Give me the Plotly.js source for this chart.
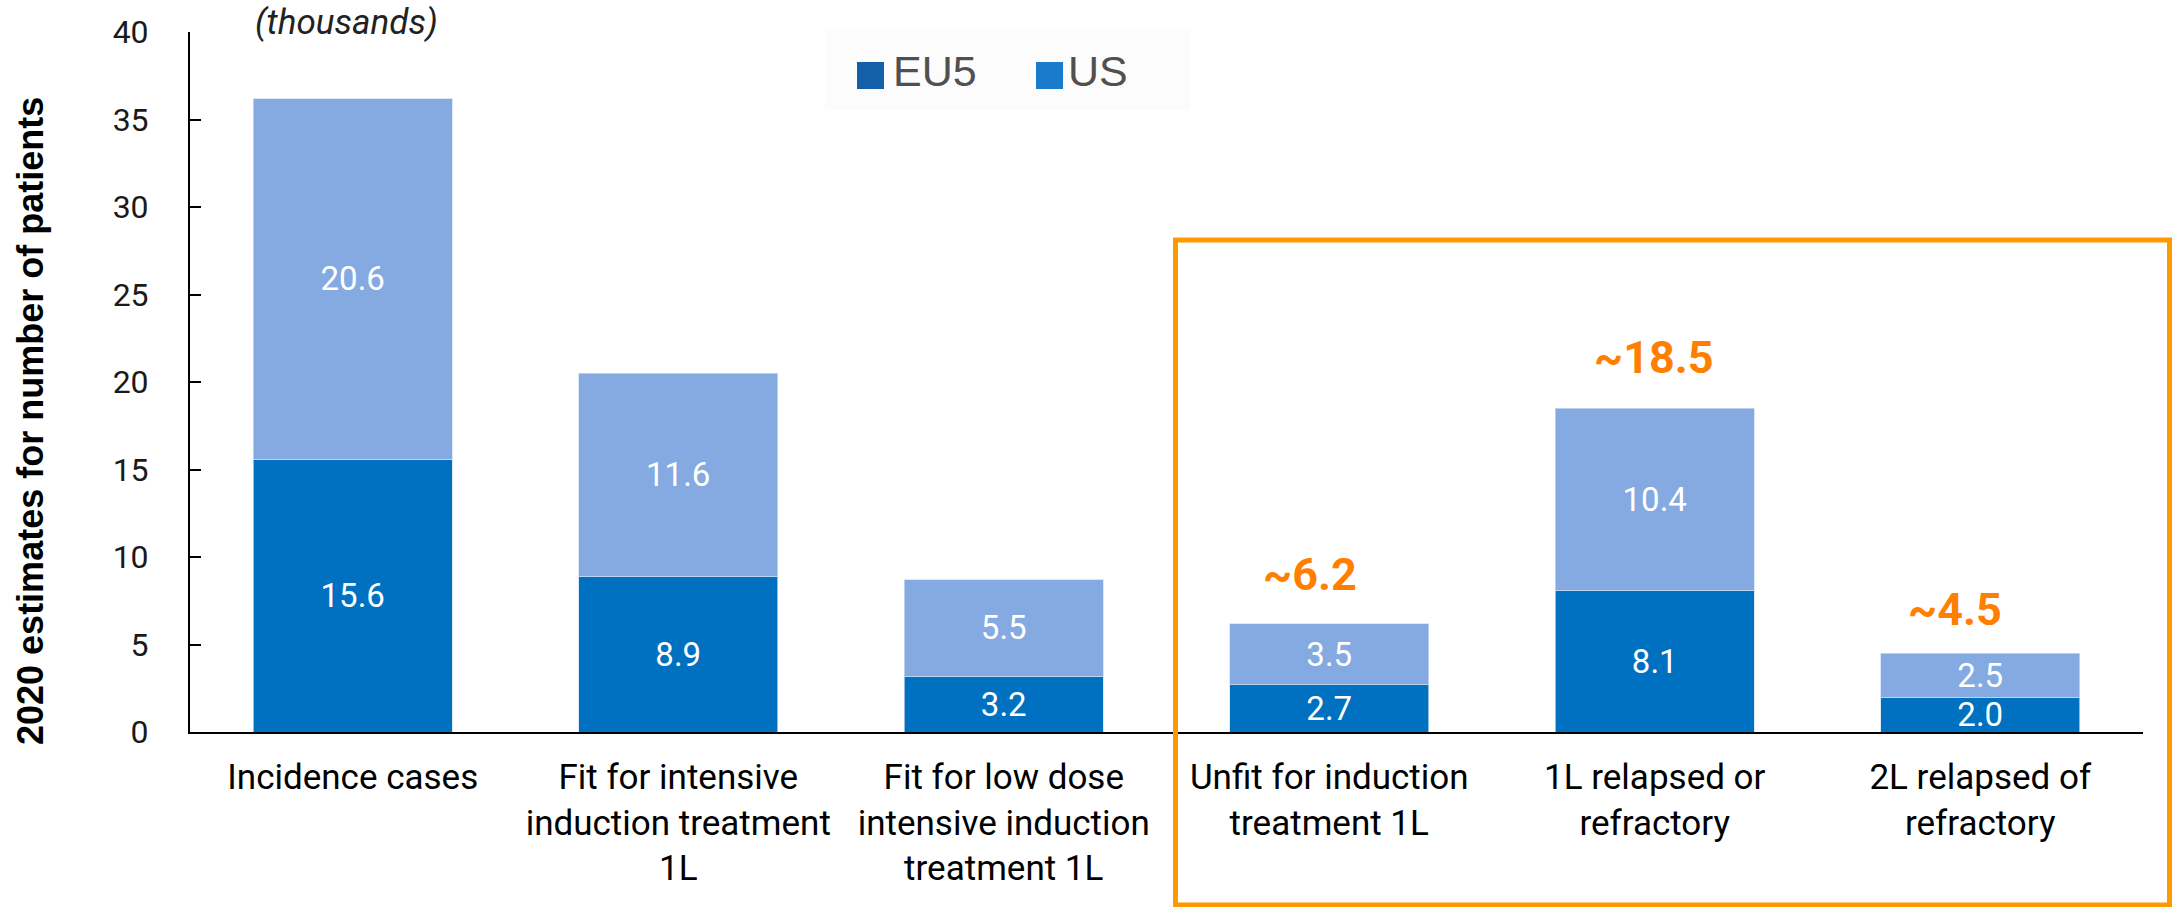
<!DOCTYPE html>
<html>
<head>
<meta charset="utf-8">
<script src="https://cdn.plot.ly/plotly-3.0.1.min.js"></script>
<style>html,body{margin:0;padding:0;background:#fff;}#chart{width:2172px;height:907px;}</style>
</head>
<body>
<div id="chart"></div>
<script>
// ---- data ----
const categories = [
  "Incidence cases",
  "Fit for intensive<br>induction treatment<br>1L",
  "Fit for low dose<br>intensive induction<br>treatment 1L",
  "Unfit for induction<br>treatment 1L",
  "1L relapsed or<br>refractory",
  "2L relapsed of<br>refractory"
];
const eu5Values = [15.6, 8.9, 3.2, 2.7, 8.1, 2.0];
const usValues  = [20.6, 11.6, 5.5, 3.5, 10.4, 2.5];
const highlightTotals = [null, null, null, 6.2, 18.5, 4.5];
const seriesNames = ["EU5", "US"];
const yTickVals = [0, 5, 10, 15, 20, 25, 30, 35, 40];

// ---- layout helpers (pixel -> paper) ----
const W = 2172, H = 907;
const M = {l: 190, r: 29, t: 32, b: 175};
const PW = W - M.l - M.r, PH = H - M.t - M.b;
const px = v => (v - M.l) / PW;
const py = v => (H - M.b - v) / PH;

const barLine = {color: 'rgba(205,222,245,0.7)', width: 1};
const traces = [
  {
    type: 'bar', name: seriesNames[0], x: categories, y: eu5Values,
    marker: {color: '#0070C0', line: barLine}, width: 0.61,
    texttemplate: '%{y:.1f}', textposition: 'inside', insidetextanchor: 'middle',
    textangle: 0, constraintext: 'none',
    textfont: {family: 'Roboto, sans-serif', size: 33, color: '#ffffff'},
    showlegend: false, hoverinfo: 'x+y'
  },
  {
    type: 'bar', name: seriesNames[1], x: categories, y: usValues,
    marker: {color: '#85AAE1', line: barLine}, width: 0.61,
    texttemplate: '%{y:.1f}', textposition: 'inside', insidetextanchor: 'middle',
    textangle: 0, constraintext: 'none',
    textfont: {family: 'Roboto, sans-serif', size: 33, color: '#ffffff'},
    showlegend: false, hoverinfo: 'x+y'
  }
];

const annXShift = [0, 0, 0, -19, -1, -25];
const annYShift = [0, 0, 0, 21, 22, 15];
const annotations = [];
highlightTotals.forEach((t, i) => {
  if (t === null) return;
  annotations.push({
    x: categories[i], y: t, xref: 'x', yref: 'y',
    text: '~' + t.toFixed(1), showarrow: false,
    xanchor: 'center', yanchor: 'bottom', xshift: annXShift[i], yshift: annYShift[i],
    font: {family: 'Roboto, Arial, sans-serif', size: 45, color: '#FF7F00', weight: 'bold'}
  });
});
// "(thousands)"
annotations.push({
  xref: 'paper', yref: 'paper', x: px(346), y: py(23), xanchor: 'center', yanchor: 'middle',
  text: '<i>(thousands)</i>', showarrow: false,
  font: {family: 'Roboto, sans-serif', size: 35, color: '#222222'}
});
// y axis title
annotations.push({
  xref: 'paper', yref: 'paper', x: px(30), y: py(421), xanchor: 'center', yanchor: 'middle',
  text: '<b>2020 estimates for number of patients</b>', textangle: -90, showarrow: false,
  font: {family: '"Liberation Sans", Arial, sans-serif', size: 36, color: '#000000'}
});
// legend texts
const legendColors = ['#1460A8', '#1A7ACB'];
const legendSquareX = [857, 1036];
const legendTextX = [891, 1066];
seriesNames.forEach((n, i) => {
  annotations.push({
    xref: 'paper', yref: 'paper', x: px(legendTextX[i]), y: py(71), xanchor: 'left', yanchor: 'middle',
    text: n, showarrow: false,
    font: {family: '"Liberation Sans", Arial, sans-serif', size: 43, color: '#505050'}
  });
});

const shapes = [
  // faint legend background
  {type: 'rect', xref: 'paper', yref: 'paper', x0: px(825), x1: px(1190), y0: py(110), y1: py(28),
   fillcolor: '#fcfcfc', line: {width: 0}, layer: 'below'},
  // highlight box
  {type: 'rect', xref: 'paper', yref: 'paper', x0: px(1175.5), x1: px(2169.5), y0: py(905), y1: py(240),
   line: {color: '#FF9900', width: 5}, fillcolor: 'rgba(0,0,0,0)'}
];
seriesNames.forEach((n, i) => {
  shapes.push({type: 'rect', xref: 'paper', yref: 'paper',
    x0: px(legendSquareX[i]), x1: px(legendSquareX[i] + 27), y0: py(89), y1: py(62),
    fillcolor: legendColors[i], line: {width: 0}});
});

const layout = {
  width: W, height: H,
  margin: M,
  paper_bgcolor: '#ffffff', plot_bgcolor: 'rgba(0,0,0,0)',
  barmode: 'stack',
  showlegend: false,
  font: {family: 'Roboto, sans-serif', color: '#000'},
  xaxis: {
    type: 'category', range: [-0.5, 5.5],
    showline: true, linecolor: '#000', linewidth: 2,
    ticks: '', showgrid: false, zeroline: false,
    tickfont: {family: 'Roboto, sans-serif', size: 35, color: '#000'},
    ticklabelstandoff: 13
  },
  yaxis: {
    range: [0, 40], tickvals: yTickVals,
    showline: true, linecolor: '#000', linewidth: 2,
    ticks: 'inside', ticklen: 11, tickwidth: 2, tickcolor: '#000',
    showgrid: false, zeroline: false,
    tickfont: {family: 'Roboto, sans-serif', size: 32, color: '#1a1a1a'},
    ticklabelstandoff: 33
  },
  annotations: annotations,
  shapes: shapes
};

Plotly.newPlot('chart', traces, layout, {displayModeBar: false, staticPlot: true});
</script>
</body>
</html>
